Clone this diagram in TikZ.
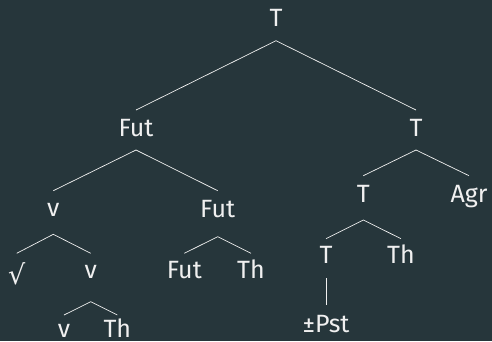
\documentclass[tikz,border=0pt]{standalone}
\usepackage{fontspec}
\setmainfont{Fira Sans}
\newfontfamily\symfont{DejaVu Sans}
\definecolor{bgc}{RGB}{38,54,59}
\definecolor{fgc}{RGB}{240,240,240}
\begin{document}
\begin{tikzpicture}[x=1pt,y=-1pt,
  lbl/.style={anchor=base,inner sep=0pt,text=fgc,font=\fontsize{25}{30}\selectfont},
  edge/.style={draw=fgc,line width=0.7pt}]
\useasboundingbox (0,0) rectangle (492,341);
\fill[bgc] (0,0) rectangle (492,341);
\clip (0,0) rectangle (492,341);
\node[lbl] (T0) at (276,26.7) {T};
\node[lbl] (F1) at (136,136) {Fut};
\node[lbl] (T1) at (416,136) {T};
\node[lbl] (v2) at (53.3,216.7) {v};
\node[lbl] (F2) at (217.7,217) {Fut};
\node[lbl] (T2) at (363.3,202) {T};
\node[lbl] (Agr) at (469,202) {Agr};
\node[lbl] (sq) at (16.7,284) {\symfont\fontsize{27}{30}\selectfont √};
\node[lbl] (v3) at (90.7,278) {v};
\node[lbl] (F3) at (184.3,278) {Fut};
\node[lbl] (Th3) at (251,278) {Th};
\node[lbl] (T3) at (326,263) {T};
\node[lbl] (Th3b) at (401,263) {Th};
\node[lbl] (v4) at (64,337.5) {v};
\node[lbl] (Th4) at (117.3,337.5) {Th};
\node[lbl] (Pst) at (326,332) {±Pst};
\draw[edge] ([yshift=26pt]F1.base) -- ([yshift=-14pt]T0.base) -- ([yshift=26pt]T1.base);
\draw[edge] ([yshift=26pt]v2.base) -- ([yshift=-14pt]F1.base) -- ([yshift=26.3pt]F2.base);
\draw[edge] ([yshift=26.3pt]T2.base) -- ([yshift=-14pt]T1.base) -- ([yshift=26.3pt]Agr.base);
\draw[edge] ([yshift=30.7pt]sq.base) -- ([yshift=-17.6pt]v2.base) -- ([yshift=24.7pt]v3.base);
\draw[edge] ([yshift=24.7pt]F3.base) -- ([yshift=-19.7pt]F2.base) -- ([yshift=24.7pt]Th3.base);
\draw[edge] ([yshift=24.3pt]T3.base) -- ([yshift=-18pt]T2.base) -- ([yshift=24.3pt]Th3b.base);
\draw[edge] ([yshift=22.5pt]v4.base) -- ([yshift=-23.7pt]v3.base) -- ([yshift=22.5pt]Th4.base);
\draw[edge] ([yshift=-15.3pt]T3.base) -- ([yshift=27pt]Pst.base);
\end{tikzpicture}
\end{document}
